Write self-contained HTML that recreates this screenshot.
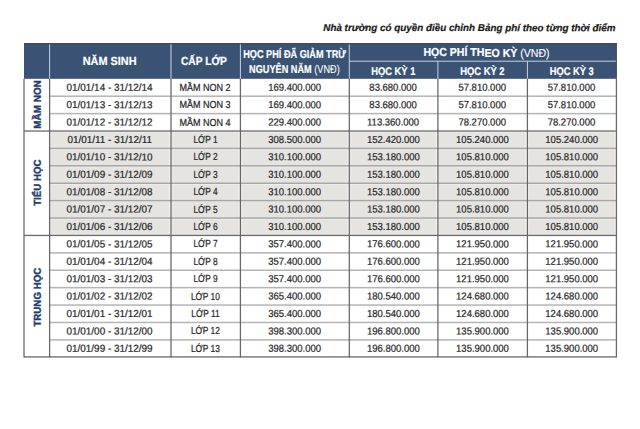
<!DOCTYPE html>
<html lang="vi"><head><meta charset="utf-8"><title>Học phí</title>
<style>
html,body{margin:0;padding:0;background:#fff;}
body{width:640px;height:429px;position:relative;overflow:hidden;font-family:"Liberation Sans","DejaVu Sans",sans-serif;color:#2b2b2b;}
div{position:absolute;}
.x{line-height:1;white-space:nowrap;transform-origin:0 0;}
.note{color:#161616;font-weight:bold;font-style:italic;-webkit-text-stroke:0.2px #222;}
.h{color:#fff;font-weight:bold;-webkit-text-stroke:0.2px #fff;}
.h .n{font-weight:normal;-webkit-text-stroke:0.1px #fff;}
.c{color:#242424;font-size:10.2px;-webkit-text-stroke:0.22px #2a2a2a;}
.v{color:#1f3d6c;font-weight:bold;-webkit-text-stroke:0.4px #1f3d6c;}
</style></head><body>

<svg width="640" height="429" viewBox="0 0 640 429" style="position:absolute;left:0;top:0"><rect x="24" y="43.3" width="592.4" height="35.5" fill="#3a5273"/><rect x="49.6" y="131.01" width="566.8" height="104.43" fill="#f3f3f1"/><rect x="50.8" y="132.31" width="118.3" height="15.41" fill="#e5e4e1"/><rect x="172.2" y="132.31" width="66.3" height="15.41" fill="#e5e4e1"/><rect x="241.6" y="132.31" width="105.8" height="15.41" fill="#e5e4e1"/><rect x="350.5" y="132.31" width="85.5" height="15.41" fill="#e5e4e1"/><rect x="439.1" y="132.31" width="86.4" height="15.41" fill="#e5e4e1"/><rect x="528.6" y="132.31" width="85.9" height="15.41" fill="#e5e4e1"/><rect x="50.8" y="149.72" width="118.3" height="15.4" fill="#e5e4e1"/><rect x="172.2" y="149.72" width="66.3" height="15.4" fill="#e5e4e1"/><rect x="241.6" y="149.72" width="105.8" height="15.4" fill="#e5e4e1"/><rect x="350.5" y="149.72" width="85.5" height="15.4" fill="#e5e4e1"/><rect x="439.1" y="149.72" width="86.4" height="15.4" fill="#e5e4e1"/><rect x="528.6" y="149.72" width="85.9" height="15.4" fill="#e5e4e1"/><rect x="50.8" y="167.12" width="118.3" height="15.41" fill="#e5e4e1"/><rect x="172.2" y="167.12" width="66.3" height="15.41" fill="#e5e4e1"/><rect x="241.6" y="167.12" width="105.8" height="15.41" fill="#e5e4e1"/><rect x="350.5" y="167.12" width="85.5" height="15.41" fill="#e5e4e1"/><rect x="439.1" y="167.12" width="86.4" height="15.41" fill="#e5e4e1"/><rect x="528.6" y="167.12" width="85.9" height="15.41" fill="#e5e4e1"/><rect x="50.8" y="184.53" width="118.3" height="15.4" fill="#e5e4e1"/><rect x="172.2" y="184.53" width="66.3" height="15.4" fill="#e5e4e1"/><rect x="241.6" y="184.53" width="105.8" height="15.4" fill="#e5e4e1"/><rect x="350.5" y="184.53" width="85.5" height="15.4" fill="#e5e4e1"/><rect x="439.1" y="184.53" width="86.4" height="15.4" fill="#e5e4e1"/><rect x="528.6" y="184.53" width="85.9" height="15.4" fill="#e5e4e1"/><rect x="50.8" y="201.94" width="118.3" height="15.41" fill="#e5e4e1"/><rect x="172.2" y="201.94" width="66.3" height="15.41" fill="#e5e4e1"/><rect x="241.6" y="201.94" width="105.8" height="15.41" fill="#e5e4e1"/><rect x="350.5" y="201.94" width="85.5" height="15.41" fill="#e5e4e1"/><rect x="439.1" y="201.94" width="86.4" height="15.41" fill="#e5e4e1"/><rect x="528.6" y="201.94" width="85.9" height="15.41" fill="#e5e4e1"/><rect x="50.8" y="219.34" width="118.3" height="15.4" fill="#e5e4e1"/><rect x="172.2" y="219.34" width="66.3" height="15.4" fill="#e5e4e1"/><rect x="241.6" y="219.34" width="105.8" height="15.4" fill="#e5e4e1"/><rect x="350.5" y="219.34" width="85.5" height="15.4" fill="#e5e4e1"/><rect x="439.1" y="219.34" width="86.4" height="15.4" fill="#e5e4e1"/><rect x="528.6" y="219.34" width="85.9" height="15.4" fill="#e5e4e1"/><rect x="49.1" y="44.3" width="1" height="34.5" fill="#c9d1e2"/><rect x="170.5" y="44.3" width="1" height="34.5" fill="#c9d1e2"/><rect x="239.9" y="44.3" width="1" height="34.5" fill="#c9d1e2"/><rect x="348.8" y="44.3" width="1" height="34.5" fill="#c9d1e2"/><rect x="437.4" y="61.2" width="1" height="17.6" fill="#c9d1e2"/><rect x="526.9" y="61.2" width="1" height="17.6" fill="#c9d1e2"/><rect x="349.3" y="60.7" width="267.1" height="1" fill="#c9d1e2"/><rect x="49.6" y="95.45" width="566.8" height="1.5" fill="#b4b4b4"/><rect x="49.6" y="112.86" width="566.8" height="1.5" fill="#b4b4b4"/><rect x="49.6" y="147.67" width="566.8" height="1.5" fill="#a6a6a6"/><rect x="49.6" y="165.07" width="566.8" height="1.5" fill="#a6a6a6"/><rect x="49.6" y="182.48" width="566.8" height="1.5" fill="#a6a6a6"/><rect x="49.6" y="199.88" width="566.8" height="1.5" fill="#a6a6a6"/><rect x="49.6" y="217.29" width="566.8" height="1.5" fill="#a6a6a6"/><rect x="49.6" y="252.1" width="566.8" height="1.5" fill="#b4b4b4"/><rect x="49.6" y="269.5" width="566.8" height="1.5" fill="#b4b4b4"/><rect x="49.6" y="286.91" width="566.8" height="1.5" fill="#b4b4b4"/><rect x="49.6" y="304.31" width="566.8" height="1.5" fill="#b4b4b4"/><rect x="49.6" y="321.72" width="566.8" height="1.5" fill="#b4b4b4"/><rect x="49.6" y="339.13" width="566.8" height="1.5" fill="#b4b4b4"/><rect x="24" y="130.36" width="592.4" height="1.3" fill="#6a6a6d"/><rect x="24" y="234.79" width="592.4" height="1.3" fill="#6a6a6d"/><rect x="24" y="356.25" width="592.4" height="1.3" fill="#6a6a6d"/><rect x="23.38" y="78.8" width="1.25" height="278.7" fill="#66666a"/><rect x="48.98" y="78.8" width="1.25" height="278.7" fill="#66666a"/><rect x="170.38" y="78.8" width="1.25" height="278.7" fill="#66666a"/><rect x="239.78" y="78.8" width="1.25" height="278.7" fill="#66666a"/><rect x="348.68" y="78.8" width="1.25" height="278.7" fill="#66666a"/><rect x="437.28" y="78.8" width="1.25" height="278.7" fill="#66666a"/><rect x="526.78" y="78.8" width="1.25" height="278.7" fill="#66666a"/><rect x="615.78" y="78.8" width="1.25" height="278.7" fill="#66666a"/><rect x="24" y="43" width="592.9" height="1.1" fill="#474b4d"/><rect x="615.85" y="43" width="1.05" height="35.8" fill="#4a4c52"/></svg>
<div class="x note" style="left:323px;top:23px;font-size:10px;transform:translate(0.3px,0.04px) rotate(0.03deg) scaleX(0.9832)">Nhà trường có quyền điều chỉnh Bảng phí theo từng thời điểm</div>
<div class="x h" style="left:82px;top:55px;font-size:11.7px;transform:translate(0.67px,0.3px) rotate(0.03deg) scaleX(0.9321)">NĂM SINH</div>
<div class="x h" style="left:180px;top:55px;font-size:11.7px;transform:translate(0.93px,0.3px) rotate(0.03deg) scaleX(0.8745)">CẤP LỚP</div>
<div class="x h" style="left:243px;top:48px;font-size:11.4px;transform:translate(0.2px,0.95px) rotate(0.03deg) scaleX(0.8039)">HỌC PHÍ ĐÃ GIẢM TRỪ</div>
<div class="x h" style="left:249px;top:63px;font-size:11.4px;transform:translate(0.1px,0.65px) rotate(0.03deg) scaleX(0.8045)">NGUYÊN NĂM <span class="n">(VNĐ)</span></div>
<div class="x h" style="left:423px;top:47px;font-size:11.5px;transform:translate(0.38px,0.47px) rotate(0.03deg) scaleX(0.9191)">HỌC PHÍ THEO KỲ <span class="n">(VNĐ)</span></div>
<div class="x h" style="left:371px;top:65px;font-size:11.2px;transform:translate(0.16px,0.62px) rotate(0.03deg) scaleX(0.8373)">HỌC KỲ 1</div>
<div class="x h" style="left:460px;top:65px;font-size:11.2px;transform:translate(0.16px,0.62px) rotate(0.03deg) scaleX(0.8412)">HỌC KỲ 2</div>
<div class="x h" style="left:549px;top:65px;font-size:11.2px;transform:translate(0.66px,0.62px) rotate(0.03deg) scaleX(0.8353)">HỌC KỲ 3</div>
<div class="x c" style="left:66px;top:82px;transform:translate(0.58px,0.72px) rotate(0.03deg) scale(0.9724,1)">01/01/14 - 31/12/14</div>
<div class="x c" style="left:179px;top:82px;transform:translate(0.41px,0.72px) rotate(0.03deg) scale(0.8857,1)">MẦM NON 2</div>
<div class="x c" style="left:268px;top:82px;transform:translate(0.27px,0.72px) rotate(0.03deg) scale(0.9327,1)">169.400.000</div>
<div class="x c" style="left:369px;top:82px;transform:translate(0.35px,0.72px) rotate(0.03deg) scale(0.9327,1)">83.680.000</div>
<div class="x c" style="left:458px;top:82px;transform:translate(0.4px,0.72px) rotate(0.03deg) scale(0.9327,1)">57.810.000</div>
<div class="x c" style="left:547px;top:82px;transform:translate(0.65px,0.72px) rotate(0.03deg) scale(0.9327,1)">57.810.000</div>
<div class="x c" style="left:66px;top:100px;transform:translate(0.58px,0.12px) rotate(0.03deg) scale(0.9724,1)">01/01/13 - 31/12/13</div>
<div class="x c" style="left:179px;top:100px;transform:translate(0.41px,0.12px) rotate(0.03deg) scale(0.8857,1)">MẦM NON 3</div>
<div class="x c" style="left:268px;top:100px;transform:translate(0.27px,0.12px) rotate(0.03deg) scale(0.9327,1)">169.400.000</div>
<div class="x c" style="left:369px;top:100px;transform:translate(0.35px,0.12px) rotate(0.03deg) scale(0.9327,1)">83.680.000</div>
<div class="x c" style="left:458px;top:100px;transform:translate(0.4px,0.12px) rotate(0.03deg) scale(0.9327,1)">57.810.000</div>
<div class="x c" style="left:547px;top:100px;transform:translate(0.65px,0.12px) rotate(0.03deg) scale(0.9327,1)">57.810.000</div>
<div class="x c" style="left:66px;top:117px;transform:translate(0.58px,0.53px) rotate(0.03deg) scale(0.9724,1)">01/01/12 - 31/12/12</div>
<div class="x c" style="left:179px;top:117px;transform:translate(0.41px,0.53px) rotate(0.03deg) scale(0.8857,1)">MẦM NON 4</div>
<div class="x c" style="left:268px;top:117px;transform:translate(0.27px,0.53px) rotate(0.03deg) scale(0.9327,1)">229.400.000</div>
<div class="x c" style="left:367px;top:117px;transform:translate(0.02px,0.53px) rotate(0.03deg) scale(0.9327,1)">113.360.000</div>
<div class="x c" style="left:458px;top:117px;transform:translate(0.4px,0.53px) rotate(0.03deg) scale(0.9327,1)">78.270.000</div>
<div class="x c" style="left:547px;top:117px;transform:translate(0.65px,0.53px) rotate(0.03deg) scale(0.9327,1)">78.270.000</div>
<div class="x c" style="left:67px;top:134px;transform:translate(0.55px,0.93px) rotate(0.03deg) scale(0.9724,1)">01/01/11 - 31/12/11</div>
<div class="x c" style="left:193px;top:134px;transform:translate(0.38px,0.93px) rotate(0.03deg) scale(0.8214,1)">LỚP 1</div>
<div class="x c" style="left:268px;top:134px;transform:translate(0.27px,0.93px) rotate(0.03deg) scale(0.9327,1)">308.500.000</div>
<div class="x c" style="left:367px;top:134px;transform:translate(0.02px,0.93px) rotate(0.03deg) scale(0.9327,1)">152.420.000</div>
<div class="x c" style="left:456px;top:134px;transform:translate(0.07px,0.93px) rotate(0.03deg) scale(0.9327,1)">105.240.000</div>
<div class="x c" style="left:545px;top:134px;transform:translate(0.32px,0.93px) rotate(0.03deg) scale(0.9327,1)">105.240.000</div>
<div class="x c" style="left:66px;top:152px;transform:translate(0.58px,0.34px) rotate(0.03deg) scale(0.9724,1)">01/01/10 - 31/12/10</div>
<div class="x c" style="left:193px;top:152px;transform:translate(0.38px,0.34px) rotate(0.03deg) scale(0.8214,1)">LỚP 2</div>
<div class="x c" style="left:268px;top:152px;transform:translate(0.27px,0.34px) rotate(0.03deg) scale(0.9327,1)">310.100.000</div>
<div class="x c" style="left:367px;top:152px;transform:translate(0.02px,0.34px) rotate(0.03deg) scale(0.9327,1)">153.180.000</div>
<div class="x c" style="left:456px;top:152px;transform:translate(0.07px,0.34px) rotate(0.03deg) scale(0.9327,1)">105.810.000</div>
<div class="x c" style="left:545px;top:152px;transform:translate(0.32px,0.34px) rotate(0.03deg) scale(0.9327,1)">105.810.000</div>
<div class="x c" style="left:66px;top:169px;transform:translate(0.58px,0.74px) rotate(0.03deg) scale(0.9724,1)">01/01/09 - 31/12/09</div>
<div class="x c" style="left:193px;top:169px;transform:translate(0.38px,0.74px) rotate(0.03deg) scale(0.8214,1)">LỚP 3</div>
<div class="x c" style="left:268px;top:169px;transform:translate(0.27px,0.74px) rotate(0.03deg) scale(0.9327,1)">310.100.000</div>
<div class="x c" style="left:367px;top:169px;transform:translate(0.02px,0.74px) rotate(0.03deg) scale(0.9327,1)">153.180.000</div>
<div class="x c" style="left:456px;top:169px;transform:translate(0.07px,0.74px) rotate(0.03deg) scale(0.9327,1)">105.810.000</div>
<div class="x c" style="left:545px;top:169px;transform:translate(0.32px,0.74px) rotate(0.03deg) scale(0.9327,1)">105.810.000</div>
<div class="x c" style="left:66px;top:187px;transform:translate(0.58px,0.15px) rotate(0.03deg) scale(0.9724,1)">01/01/08 - 31/12/08</div>
<div class="x c" style="left:193px;top:187px;transform:translate(0.38px,0.15px) rotate(0.03deg) scale(0.8214,1)">LỚP 4</div>
<div class="x c" style="left:268px;top:187px;transform:translate(0.27px,0.15px) rotate(0.03deg) scale(0.9327,1)">310.100.000</div>
<div class="x c" style="left:367px;top:187px;transform:translate(0.02px,0.15px) rotate(0.03deg) scale(0.9327,1)">153.180.000</div>
<div class="x c" style="left:456px;top:187px;transform:translate(0.07px,0.15px) rotate(0.03deg) scale(0.9327,1)">105.810.000</div>
<div class="x c" style="left:545px;top:187px;transform:translate(0.32px,0.15px) rotate(0.03deg) scale(0.9327,1)">105.810.000</div>
<div class="x c" style="left:66px;top:204px;transform:translate(0.58px,0.55px) rotate(0.03deg) scale(0.9724,1)">01/01/07 - 31/12/07</div>
<div class="x c" style="left:193px;top:204px;transform:translate(0.38px,0.55px) rotate(0.03deg) scale(0.8214,1)">LỚP 5</div>
<div class="x c" style="left:268px;top:204px;transform:translate(0.27px,0.55px) rotate(0.03deg) scale(0.9327,1)">310.100.000</div>
<div class="x c" style="left:367px;top:204px;transform:translate(0.02px,0.55px) rotate(0.03deg) scale(0.9327,1)">153.180.000</div>
<div class="x c" style="left:456px;top:204px;transform:translate(0.07px,0.55px) rotate(0.03deg) scale(0.9327,1)">105.810.000</div>
<div class="x c" style="left:545px;top:204px;transform:translate(0.32px,0.55px) rotate(0.03deg) scale(0.9327,1)">105.810.000</div>
<div class="x c" style="left:66px;top:221px;transform:translate(0.58px,0.96px) rotate(0.03deg) scale(0.9724,1)">01/01/06 - 31/12/06</div>
<div class="x c" style="left:193px;top:221px;transform:translate(0.38px,0.96px) rotate(0.03deg) scale(0.8214,1)">LỚP 6</div>
<div class="x c" style="left:268px;top:221px;transform:translate(0.27px,0.96px) rotate(0.03deg) scale(0.9327,1)">310.100.000</div>
<div class="x c" style="left:367px;top:221px;transform:translate(0.02px,0.96px) rotate(0.03deg) scale(0.9327,1)">153.180.000</div>
<div class="x c" style="left:456px;top:221px;transform:translate(0.07px,0.96px) rotate(0.03deg) scale(0.9327,1)">105.810.000</div>
<div class="x c" style="left:545px;top:221px;transform:translate(0.32px,0.96px) rotate(0.03deg) scale(0.9327,1)">105.810.000</div>
<div class="x c" style="left:66px;top:239px;transform:translate(0.58px,0.36px) rotate(0.03deg) scale(0.9724,1)">01/01/05 - 31/12/05</div>
<div class="x c" style="left:193px;top:239px;transform:translate(0.38px,0.36px) rotate(0.03deg) scale(0.8214,1)">LỚP 7</div>
<div class="x c" style="left:268px;top:239px;transform:translate(0.27px,0.36px) rotate(0.03deg) scale(0.9327,1)">357.400.000</div>
<div class="x c" style="left:367px;top:239px;transform:translate(0.02px,0.36px) rotate(0.03deg) scale(0.9327,1)">176.600.000</div>
<div class="x c" style="left:456px;top:239px;transform:translate(0.07px,0.36px) rotate(0.03deg) scale(0.9327,1)">121.950.000</div>
<div class="x c" style="left:545px;top:239px;transform:translate(0.32px,0.36px) rotate(0.03deg) scale(0.9327,1)">121.950.000</div>
<div class="x c" style="left:66px;top:256px;transform:translate(0.58px,0.77px) rotate(0.03deg) scale(0.9724,1)">01/01/04 - 31/12/04</div>
<div class="x c" style="left:193px;top:256px;transform:translate(0.38px,0.77px) rotate(0.03deg) scale(0.8214,1)">LỚP 8</div>
<div class="x c" style="left:268px;top:256px;transform:translate(0.27px,0.77px) rotate(0.03deg) scale(0.9327,1)">357.400.000</div>
<div class="x c" style="left:367px;top:256px;transform:translate(0.02px,0.77px) rotate(0.03deg) scale(0.9327,1)">176.600.000</div>
<div class="x c" style="left:456px;top:256px;transform:translate(0.07px,0.77px) rotate(0.03deg) scale(0.9327,1)">121.950.000</div>
<div class="x c" style="left:545px;top:256px;transform:translate(0.32px,0.77px) rotate(0.03deg) scale(0.9327,1)">121.950.000</div>
<div class="x c" style="left:66px;top:274px;transform:translate(0.58px,0.17px) rotate(0.03deg) scale(0.9724,1)">01/01/03 - 31/12/03</div>
<div class="x c" style="left:193px;top:274px;transform:translate(0.38px,0.17px) rotate(0.03deg) scale(0.8214,1)">LỚP 9</div>
<div class="x c" style="left:268px;top:274px;transform:translate(0.27px,0.17px) rotate(0.03deg) scale(0.9327,1)">357.400.000</div>
<div class="x c" style="left:367px;top:274px;transform:translate(0.02px,0.17px) rotate(0.03deg) scale(0.9327,1)">176.600.000</div>
<div class="x c" style="left:456px;top:274px;transform:translate(0.07px,0.17px) rotate(0.03deg) scale(0.9327,1)">121.950.000</div>
<div class="x c" style="left:545px;top:274px;transform:translate(0.32px,0.17px) rotate(0.03deg) scale(0.9327,1)">121.950.000</div>
<div class="x c" style="left:66px;top:291px;transform:translate(0.58px,0.58px) rotate(0.03deg) scale(0.9724,1)">01/01/02 - 31/12/02</div>
<div class="x c" style="left:190px;top:291px;transform:translate(0.91px,0.58px) rotate(0.03deg) scale(0.8214,1)">LỚP 10</div>
<div class="x c" style="left:268px;top:291px;transform:translate(0.27px,0.58px) rotate(0.03deg) scale(0.9327,1)">365.400.000</div>
<div class="x c" style="left:367px;top:291px;transform:translate(0.02px,0.58px) rotate(0.03deg) scale(0.9327,1)">180.540.000</div>
<div class="x c" style="left:456px;top:291px;transform:translate(0.07px,0.58px) rotate(0.03deg) scale(0.9327,1)">124.680.000</div>
<div class="x c" style="left:545px;top:291px;transform:translate(0.32px,0.58px) rotate(0.03deg) scale(0.9327,1)">124.680.000</div>
<div class="x c" style="left:66px;top:308px;transform:translate(0.58px,0.98px) rotate(0.03deg) scale(0.9724,1)">01/01/01 - 31/12/01</div>
<div class="x c" style="left:191px;top:308px;transform:translate(0.33px,0.98px) rotate(0.03deg) scale(0.8214,1)">LỚP 11</div>
<div class="x c" style="left:268px;top:308px;transform:translate(0.27px,0.98px) rotate(0.03deg) scale(0.9327,1)">365.400.000</div>
<div class="x c" style="left:367px;top:308px;transform:translate(0.02px,0.98px) rotate(0.03deg) scale(0.9327,1)">180.540.000</div>
<div class="x c" style="left:456px;top:308px;transform:translate(0.07px,0.98px) rotate(0.03deg) scale(0.9327,1)">124.680.000</div>
<div class="x c" style="left:545px;top:308px;transform:translate(0.32px,0.98px) rotate(0.03deg) scale(0.9327,1)">124.680.000</div>
<div class="x c" style="left:66px;top:326px;transform:translate(0.58px,0.39px) rotate(0.03deg) scale(0.9724,1)">01/01/00 - 31/12/00</div>
<div class="x c" style="left:190px;top:326px;transform:translate(0.91px,0.39px) rotate(0.03deg) scale(0.8214,1)">LỚP 12</div>
<div class="x c" style="left:268px;top:326px;transform:translate(0.27px,0.39px) rotate(0.03deg) scale(0.9327,1)">398.300.000</div>
<div class="x c" style="left:367px;top:326px;transform:translate(0.02px,0.39px) rotate(0.03deg) scale(0.9327,1)">196.800.000</div>
<div class="x c" style="left:456px;top:326px;transform:translate(0.07px,0.39px) rotate(0.03deg) scale(0.9327,1)">135.900.000</div>
<div class="x c" style="left:545px;top:326px;transform:translate(0.32px,0.39px) rotate(0.03deg) scale(0.9327,1)">135.900.000</div>
<div class="x c" style="left:66px;top:343px;transform:translate(0.58px,0.79px) rotate(0.03deg) scale(0.9724,1)">01/01/99 - 31/12/99</div>
<div class="x c" style="left:190px;top:343px;transform:translate(0.91px,0.79px) rotate(0.03deg) scale(0.8214,1)">LỚP 13</div>
<div class="x c" style="left:268px;top:343px;transform:translate(0.27px,0.79px) rotate(0.03deg) scale(0.9327,1)">398.300.000</div>
<div class="x c" style="left:367px;top:343px;transform:translate(0.02px,0.79px) rotate(0.03deg) scale(0.9327,1)">196.800.000</div>
<div class="x c" style="left:456px;top:343px;transform:translate(0.07px,0.79px) rotate(0.03deg) scale(0.9327,1)">135.900.000</div>
<div class="x c" style="left:545px;top:343px;transform:translate(0.32px,0.79px) rotate(0.03deg) scale(0.9327,1)">135.900.000</div>
<div class="x v" style="left:32px;top:128px;font-size:10px;transform:translate(0.83px,0.69px) rotate(-89.97deg) scaleX(0.9915)">MẦM NON</div>
<div class="x v" style="left:32px;top:205px;font-size:10px;transform:translate(0.83px,0.8px) rotate(-89.97deg) scaleX(0.9681)">TIỂU HỌC</div>
<div class="x v" style="left:32px;top:326px;font-size:10px;transform:translate(0.83px,0.6px) rotate(-89.97deg) scaleX(0.9717)">TRUNG HỌC</div>
</body></html>
